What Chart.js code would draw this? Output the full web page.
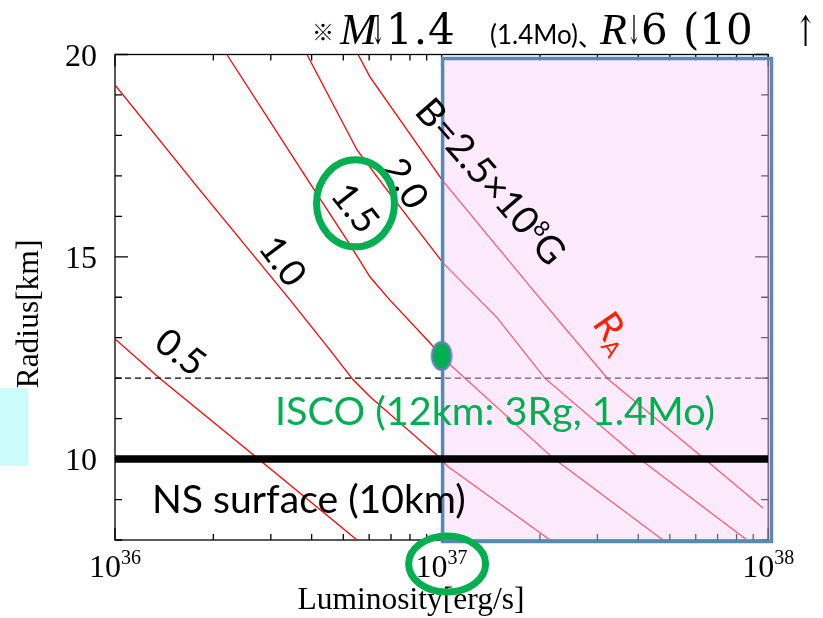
<!DOCTYPE html>
<html>
<head>
<meta charset="utf-8">
<script src="https://cdn.jsdelivr.net/npm/chart.js@4/dist/chart.umd.min.js"></script>
<style>
  html, body { margin: 0; padding: 0; background: #ffffff; }
  canvas { display: block; }
</style>
</head>
<body>
<canvas id="chart" width="823" height="618"></canvas>
<script>
// ---- Axis ranges ----
const luminosityRange = [1e36, 1e38];   // erg/s
const radiusRange = [8, 20];            // km

// ---- Tick labels ----
const xTickExponents = [36, 37, 38];
const yTickValues = [10, 15, 20];

// ---- Alfven radius R_A versus luminosity, one curve per surface field ----
const fieldLabels = ['0.5', '1.0', '1.5', '2.0', 'B=2.5×10⁸G'];

const lumB05 = [1.00e36, 1.37e36, 2.72e36, 5.51e36];
const radB05 = [12.97, 12.00, 10.03, 8.00];

const lumB10 = [1.00e36, 1.82e36, 3.44e36, 4.55e36, 5.36e36, 6.04e36, 9.89e36, 1.04e37, 2.15e37];
const radB10 = [19.25, 16.65, 13.93, 12.70, 11.96, 11.54, 10.03, 9.83, 8.00];

const lumB15 = [2.20e36, 3.95e36, 5.13e36, 6.04e36, 6.95e36, 9.22e36, 1.04e37, 2.19e37, 4.76e37];
const radB15 = [20.00, 16.82, 15.42, 14.50, 13.93, 12.87, 12.40, 10.03, 8.00];

const lumB20 = [3.87e36, 5.51e36, 6.81e36, 1.01e37, 1.48e37, 2.07e37, 3.97e37, 8.61e37];
const radB20 = [20.00, 17.64, 16.65, 14.85, 13.49, 12.00, 10.05, 8.00];

const lumB25 = [5.55e36, 6.04e36, 1.01e37, 1.96e37, 3.23e37, 6.32e37, 9.64e37];
const radB25 = [20.00, 19.44, 16.87, 14.06, 11.98, 10.03, 8.79];

// ---- Reference radii and the high-luminosity band ----
const iscoRadius = 12;        // km
const surfaceRadius = 10;     // km
const highLumBand = [1e37, 1e38];

// ---- Marked point: B = 1.5e8 G contour at 1e37 erg/s ----
const markLum = [1e37];
const markRad = [12.55];

const zip = (xs, ys) => xs.map((x, i) => ({ x, y: ys[i] }));

const GREEN = '#00b050';
const BOX_BLUE = '#5b87b4';
const SANS = 'Lato, "Noto Sans", sans-serif';
const SERIF = '"Liberation Serif", "Times New Roman", serif';

// marker image: small green ellipse with a blue rim
function makeMarker() {
  const c = document.createElement('canvas');
  c.width = 26; c.height = 34;
  const g = c.getContext('2d');
  g.beginPath();
  g.ellipse(13, 17, 9.5, 13.8, 0, 0, Math.PI * 2);
  g.fillStyle = GREEN;
  g.fill();
  g.lineWidth = 2.5;
  g.strokeStyle = BOX_BLUE;
  g.stroke();
  return c;
}

function contour(lums, rads) {
  return {
    data: zip(lums, rads),
    showLine: true,
    borderColor: '#ff0000',
    borderWidth: 1.3,
    pointRadius: 0,
    tension: 0,
    order: 5
  };
}

// draw a run of text pieces centred at (cx, cy), rotated by angle (deg)
function drawParts(ctx, parts, cx, cy, angle, color, cap) {
  ctx.save();
  ctx.translate(cx, cy);
  ctx.rotate(angle * Math.PI / 180);
  ctx.fillStyle = color;
  ctx.textAlign = 'left';
  ctx.textBaseline = 'alphabetic';
  let total = 0;
  for (const p of parts) { ctx.font = p.font; p.w = ctx.measureText(p.t).width; total += p.w; }
  let x = -total / 2;
  for (const p of parts) {
    ctx.font = p.font;
    ctx.fillText(p.t, x, cap / 2 + (p.dy || 0));
    x += p.w;
  }
  ctx.restore();
}

// draw text with the font size chosen so it spans the given width
function fitText(ctx, text, family, left, baseline, width, color) {
  ctx.font = `100px ${family}`;
  const size = 100 * width / ctx.measureText(text).width;
  ctx.font = `${size}px ${family}`;
  ctx.fillStyle = color;
  ctx.textAlign = 'left';
  ctx.textBaseline = 'alphabetic';
  ctx.fillText(text, left, baseline);
}

function ellipse(ctx, cx, cy, rx, ry, color, lw) {
  ctx.beginPath();
  ctx.ellipse(cx, cy, rx, ry, 0, 0, Math.PI * 2);
  ctx.strokeStyle = color;
  ctx.lineWidth = lw;
  ctx.stroke();
}

const decorations = {
  id: 'decorations',

  // frame with inward ticks on all four sides
  beforeDatasetsDraw(chart) {
    const { ctx, chartArea: a, scales: { x, y } } = chart;
    ctx.save();
    ctx.strokeStyle = '#000';
    ctx.lineWidth = 1.3;
    ctx.strokeRect(a.left, a.top, a.right - a.left, a.bottom - a.top);
    ctx.beginPath();
    for (let e = 36; e < 38; e++) {
      for (let k = 1; k <= 10; k++) {
        const v = k * Math.pow(10, e);
        const px = x.getPixelForValue(v);
        const len = (k === 1 || k === 10) ? 12 : 6;
        ctx.moveTo(px, a.bottom); ctx.lineTo(px, a.bottom - len);
        ctx.moveTo(px, a.top); ctx.lineTo(px, a.top + len);
      }
    }
    for (let r = radiusRange[0]; r <= radiusRange[1]; r++) {
      const py = y.getPixelForValue(r);
      const len = r % 5 === 0 ? 13 : 7;
      ctx.moveTo(a.left, py); ctx.lineTo(a.left + len, py);
      ctx.moveTo(a.right, py); ctx.lineTo(a.right - len, py);
    }
    ctx.stroke();
    ctx.restore();
  },

  // translucent band for L >= 1e37, laid over the contours and the ISCO line
  beforeDatasetDraw(chart, args) {
    if (!chart.data.datasets[args.index].isSurface) return;
    const { ctx, chartArea: a, scales: { x } } = chart;
    const l = x.getPixelForValue(highLumBand[0]) + 1;
    const r = x.getPixelForValue(highLumBand[1]) + 3.3;
    const t = a.top + 4, b = a.bottom + 1.5;
    ctx.save();
    ctx.fillStyle = 'rgba(250, 207, 250, 0.435)';
    ctx.fillRect(l, t, r - l, b - t);
    ctx.strokeStyle = BOX_BLUE;
    ctx.lineWidth = 3.5;
    ctx.strokeRect(l, t, r - l, b - t);
    ctx.restore();
  },

  afterDatasetsDraw(chart) {
    const { ctx, chartArea: a, scales: { x, y } } = chart;
    const X = v => x.getPixelForValue(v);
    const Y = v => y.getPixelForValue(v);
    ctx.save();

    // tick labels
    ctx.fillStyle = '#000';
    ctx.textBaseline = 'alphabetic';
    for (const v of yTickValues) {
      ctx.font = `32px ${SERIF}`;
      ctx.textAlign = 'right';
      ctx.fillText(String(v), 97, Y(v) + 11);
    }
    for (const e of xTickExponents) {
      const px = X(Math.pow(10, e));
      ctx.font = `32px ${SERIF}`;
      const wb = ctx.measureText('10').width;
      ctx.font = `20px ${SERIF}`;
      const ws = ctx.measureText(String(e)).width;
      const left = px - (wb + ws) / 2;
      ctx.textAlign = 'left';
      ctx.font = `32px ${SERIF}`;
      ctx.fillText('10', left, 577);
      ctx.font = `20px ${SERIF}`;
      ctx.fillText(String(e), left + wb, 564);
    }

    // axis titles
    ctx.font = `31.5px ${SERIF}`;
    ctx.textAlign = 'center';
    ctx.fillText('Luminosity[erg/s]', 411, 609);
    ctx.save();
    ctx.translate(38, 314);
    ctx.rotate(-Math.PI / 2);
    ctx.fillText('Radius[km]', 0, 0);
    ctx.restore();

    // contour labels, rotated along the curves
    const num = s => [{ t: s, font: `37px ${SANS}` }];
    drawParts(ctx, num(fieldLabels[0]), X(1.59e36), Y(12.65), 37, '#000', 26);
    drawParts(ctx, num(fieldLabels[1]), X(3.27e36), Y(14.90), 53, '#000', 26);
    drawParts(ctx, num(fieldLabels[2]), X(5.45e36), Y(16.21), 52, '#000', 26);
    drawParts(ctx, num(fieldLabels[3]), X(7.78e36), Y(16.82), 58, '#000', 26);
    drawParts(ctx, [
      { t: 'B=2.5×10', font: `38px ${SANS}` },
      { t: '8', font: `22px ${SANS}`, dy: -13 },
      { t: 'G', font: `38px ${SANS}` }
    ], X(1.417e37), Y(16.87), 49, '#000', 27);
    drawParts(ctx, [
      { t: 'R', font: `38px ${SANS}` },
      { t: 'A', font: `23px ${SANS}`, dy: 6 }
    ], X(3.37e37), Y(13.14), 55, '#ff2000', 27);

    // reference line captions
    fitText(ctx, 'ISCO (12km: 3Rg, 1.4Mo)', SANS, X(3.09e36), Y(10.84), 440, GREEN);
    fitText(ctx, 'NS surface (10km)', SANS, X(1.298e36), Y(8.67), 314, '#000');

    // highlight rings
    ellipse(ctx, X(5.45e36), Y(16.21) - 4.5, 39, 43.5, GREEN, 7);
    ellipse(ctx, X(1e37) + 5.5, 564, 38.5, 28, GREEN, 7);

    // side swatch
    ctx.fillStyle = '#ccfcfc';
    ctx.fillRect(0, 388, 28, 78);

    // header line (sx squeezes a glyph horizontally)
    const ARROW = '"DejaVu Serif", serif';
    const hdr = [
      { t: '※', font: `22px "Noto Sans CJK JP"`, x: 312, b: 40 },
      { t: 'M', font: `italic 44px ${SERIF}`, x: 340, b: 44 },
      { t: '↓', font: `40px ${ARROW}`, x: 371, b: 44, sx: 0.42 },
      { t: '1.4', font: `42px "DejaVu Serif"`, x: 386, b: 44, ls: '1px' },
      { t: '(1.4Mo)', font: `26px ${SANS}`, x: 490, b: 44 },
      { t: '、', font: `24px "Noto Sans CJK JP"`, x: 578, b: 46 },
      { t: 'R', font: `italic 44px ${SERIF}`, x: 600, b: 44 },
      { t: '↓', font: `40px ${ARROW}`, x: 627, b: 44, sx: 0.42 },
      { t: '6', font: `42px "DejaVu Serif"`, x: 641, b: 44 },
      { t: '(10', font: `42px "DejaVu Serif"`, x: 683, b: 44 },
      { t: '↑', font: `42px ${ARROW}`, x: 795, b: 46, sx: 0.6 }
    ];
    ctx.fillStyle = '#000';
    ctx.textAlign = 'left';
    for (const h of hdr) {
      ctx.save();
      ctx.font = h.font;
      ctx.letterSpacing = h.ls || '0px';
      ctx.translate(h.x, h.b);
      ctx.scale(h.sx || 1, 1);
      ctx.fillText(h.t, 0, 0);
      ctx.restore();
    }
    ctx.restore();
  }
};

const chart = new Chart(document.getElementById('chart'), {
  type: 'scatter',
  data: {
    datasets: [
      {
        data: zip(markLum, markRad),
        pointStyle: makeMarker(),
        pointRadius: 14,
        order: 1
      },
      {
        isSurface: true,
        data: zip(luminosityRange, [surfaceRadius, surfaceRadius]),
        showLine: true,
        borderColor: '#000',
        borderWidth: 7.5,
        pointRadius: 0,
        order: 2
      },
      {
        data: zip(luminosityRange, [iscoRadius, iscoRadius]),
        showLine: true,
        borderColor: '#000',
        borderWidth: 1.3,
        borderDash: [6, 4],
        pointRadius: 0,
        order: 4
      },
      contour(lumB05, radB05),
      contour(lumB10, radB10),
      contour(lumB15, radB15),
      contour(lumB20, radB20),
      contour(lumB25, radB25)
    ]
  },
  options: {
    responsive: false,
    animation: false,
    events: [],
    layout: { padding: { left: 115, right: 54.8, top: 54.5, bottom: 78 } },
    plugins: { legend: { display: false }, tooltip: { enabled: false } },
    scales: {
      x: { type: 'logarithmic', min: luminosityRange[0], max: luminosityRange[1], display: false },
      y: { type: 'linear', min: radiusRange[0], max: radiusRange[1], display: false }
    }
  },
  plugins: [decorations]
});
</script>
</body>
</html>
